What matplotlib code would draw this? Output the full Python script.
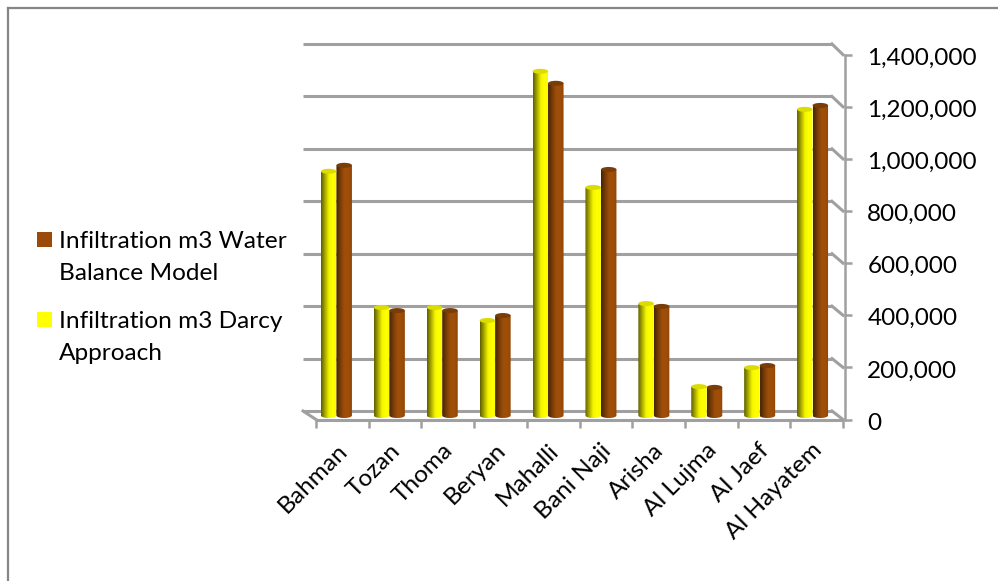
import numpy as np
import matplotlib
matplotlib.use('Agg')
import matplotlib.pyplot as plt
from matplotlib.colors import LinearSegmentedColormap
from matplotlib.lines import Line2D
from matplotlib.patches import Ellipse, Rectangle
from matplotlib.path import Path
from matplotlib.patches import PathPatch
from matplotlib.transforms import ScaledTranslation

plt.rcParams['font.family'] = ['Lato', 'DejaVu Sans']

sites = ['Bahman', 'Tozan', 'Thoma', 'Beryan', 'Mahalli', 'Bani Naji',
         'Arisha', 'Al Lujma', 'Al Jaef', 'Al Hayatem']
darcy = [938000, 415000, 415000, 365000, 1322000, 876000, 430000, 111000, 184000, 1176000]
water_balance = [961000, 403000, 403000, 384000, 1276000, 945000, 419000, 108000, 192000, 1191000]
y_ticks = [0, 200000, 400000, 600000, 800000, 1000000, 1200000, 1400000]

W, H = 998, 581
GREY = '#a0a0a0'
FONT = 17.6


def px_axes(left, right, top, bottom):
    # axes placed by pixel edges, y counted from the top of the figure
    ax = fig.add_axes([left / W, 1 - bottom / H, (right - left) / W, (bottom - top) / H])
    ax.set_xlim(0, len(sites))
    ax.set_ylim(0, y_ticks[-1])
    ax.patch.set_alpha(0)
    for s in ax.spines.values():
        s.set_visible(False)
    ax.set_xticks([])
    ax.set_yticks([])
    return ax


fig = plt.figure(figsize=(W / 100, H / 100), dpi=100)

# outer chart border, only top and left show
fig.add_artist(Line2D([8 / W, 8 / W], [0, 1 - 7.5 / H], color='#868686', lw=1.6))
fig.add_artist(Line2D([8 / W, 1], [1 - 7.5 / H, 1 - 7.5 / H], color='#868686', lw=1.6))

wall = px_axes(303, 832, 44, 411)
front = px_axes(316, 843, 54.7, 419.5)

# bar axes run a little below zero so the round feet are not cut off
units_y = y_ticks[-1] / (415.5 - 51)
foot_room = 10 * units_y
bars = px_axes(310, 839, 51, 425.5)

# back wall gridlines
for v in y_ticks:
    wall.plot([0, len(sites)], [v, v], color=GREY, lw=2.2, clip_on=False, solid_capstyle='butt')

# side and floor connectors from the wall to the front plane
for v in y_ticks:
    p0 = wall.transData.transform((len(sites), v))
    p1 = front.transData.transform((len(sites), v))
    fig.add_artist(Line2D([p0[0] / W, p1[0] / W], [p0[1] / H, p1[1] / H], color=GREY, lw=2.2))
p0 = wall.transData.transform((0, 0))
p1 = front.transData.transform((0, 0))
fig.add_artist(Line2D([p0[0] / W, p1[0] / W], [p0[1] / H, p1[1] / H], color=GREY, lw=2.2))
front.plot([0, len(sites)], [0, 0], color=GREY, lw=2.2, clip_on=False, solid_capstyle='butt')

# front axis: ticks and labels
front.spines['right'].set_visible(True)
front.spines['right'].set_position(('outward', 1.5))
front.spines['right'].set_color(GREY)
front.spines['right'].set_linewidth(1.8)
front.yaxis.tick_right()
front.set_yticks(y_ticks)
front.set_yticklabels([f'{v:,}' for v in y_ticks], fontsize=FONT - 0.1, color='black')
front.tick_params(axis='y', length=5, width=1.8, color=GREY, pad=11)
# nudge the value labels down a touch
nudge = ScaledTranslation(0, -1.5 / 100, fig.dpi_scale_trans)
for lab in front.get_yticklabels():
    lab.set_transform(lab.get_transform() + nudge)
front.set_xticks(np.arange(len(sites) + 1))
front.set_xticklabels([])
front.tick_params(axis='x', length=5.5, width=1.8, color=GREY)
for i, name in enumerate(sites):
    front.annotate(name, (i + 0.4, 0), xytext=(0, -14.5), textcoords='offset points',
                   rotation=45, ha='right', va='top', rotation_mode='anchor',
                   fontsize=FONT, color='black', annotation_clip=False)

yellow = LinearSegmentedColormap.from_list('y', ['#5f5f00', '#a8a800', '#f4f400', '#ffff00', '#fbfb00'])
brown = LinearSegmentedColormap.from_list('b', ['#452203', '#743a06', '#9c4e09', '#a04f08', '#924707'])
grad = np.linspace(0, 1, 64).reshape(1, -1)

units_x = len(sites) / (839 - 310)
bar_w = 15.5 * units_x
cap_h = 5 * units_y


def cylinder(x0, value, cmap, top_color):
    x1 = x0 + bar_w
    xc = (x0 + x1) / 2
    img = bars.imshow(grad, cmap=cmap, extent=[x0, x1, -cap_h, value], aspect='auto',
                      interpolation='bilinear', zorder=3)
    # rounded foot of the cylinder
    th = np.linspace(np.pi, 2 * np.pi, 30)
    foot = np.column_stack([xc + bar_w / 2 * np.cos(th), cap_h / 2 * np.sin(th)])
    verts = np.vstack([foot, [[x1, value], [x0, value]], foot[:1]])
    codes = [Path.MOVETO] + [Path.LINETO] * (len(verts) - 2) + [Path.CLOSEPOLY]
    clip = PathPatch(Path(verts, codes), transform=bars.transData, fc='none', ec='none')
    bars.add_patch(clip)
    img.set_clip_path(clip)
    bars.add_patch(Ellipse((xc, value), bar_w, cap_h, fc=top_color, ec='none', zorder=4))


for i in range(len(sites)):
    cylinder(i + 0.5 - bar_w, darcy[i], yellow, '#dcdc00')
    cylinder(i + 0.5, water_balance[i], brown, '#7a3d07')
bars.set_xlim(0, len(sites))
bars.set_ylim(-foot_room, y_ticks[-1])

# legend, entries stacked by hand because the labels wrap
fig.add_artist(Rectangle((37 / W, 1 - 247 / H), 15 / W, 15 / H, transform=fig.transFigure,
                         fc='#9c4a09', ec='none'))
fig.add_artist(Rectangle((37 / W, 1 - 327 / H), 15 / W, 15 / H, transform=fig.transFigure,
                         fc='#ffff00', ec='none'))
fig.text(59 / W, 1 - 241 / H, 'Infiltration m3 Water', fontsize=FONT, va='center')
fig.text(59 / W, 1 - 274 / H, 'Balance Model', fontsize=FONT, va='center')
fig.text(59 / W, 1 - 321 / H, 'Infiltration m3 Darcy', fontsize=FONT, va='center')
fig.text(59 / W, 1 - 354 / H, 'Approach', fontsize=FONT, va='center')

fig.savefig('out.png', dpi=100)
